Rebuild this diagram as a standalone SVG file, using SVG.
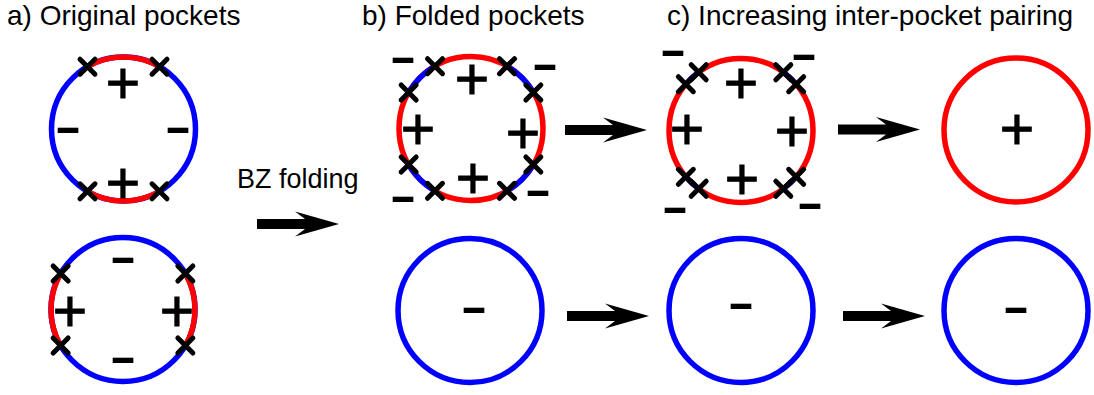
<svg xmlns="http://www.w3.org/2000/svg" xmlns:xlink="http://www.w3.org/1999/xlink" width="1094" height="395" viewBox="0 0 1094 395">
  <style>
    .title { font-family: "Liberation Sans", Arial, sans-serif; font-size: 28px; fill: #000; }
    .red { fill: none; stroke: #ff0000; stroke-width: 5.5; }
    .blue { fill: none; stroke: #0000ff; stroke-width: 5.5; }
    .node-mark { fill: none; stroke: #000; stroke-width: 5; stroke-linecap: round; }
    .p { font-family: "Liberation Sans", Arial, sans-serif; font-size: 59px; text-anchor: middle; fill: #000; stroke: #000; stroke-width: 0.9px; }
    .m { font-family: "Liberation Sans", Arial, sans-serif; font-weight: bold; font-size: 44px; text-anchor: middle; fill: #000; }
    .arrow { fill: #000; stroke: none; }
  </style>
  <defs>
    <!-- arcs on a radius-72 ring, centred on the top of the ring -->
    <path id="arc60" d="M-36,-62.354 A72,72 0 0 1 36,-62.354"/>
    <path id="arc30" d="M-18.635,-69.547 A72,72 0 0 1 18.635,-69.547"/>
    <path id="arc14" d="M-8.775,-71.464 A72,72 0 0 1 8.775,-71.464"/>
    <!-- gap node marker -->
    <path id="x" class="node-mark" d="M-7.5,-7.5 L7.5,7.5 M7.5,-7.5 L-7.5,7.5"/>
    <!-- block arrow, tip at origin -->
    <path id="arr" d="M-82,-5 H-34 L-44,-12.5 L0,0 L-44,12.5 L-34,5 H-82 Z"/>
  </defs>

  <!-- column titles -->
  <text class="title" x="7" y="25">a) Original pockets</text>
  <text class="title" x="362" y="25">b) Folded pockets</text>
  <text class="title" x="667" y="25">c) Increasing inter-pocket pairing</text>
  <text class="title" x="237" y="188" style="font-size:27px">BZ folding</text>

  <!-- a) original pocket, top -->
  <g id="pocket-a1" transform="translate(123.5,129)">
    <circle r="72" class="blue"/>
    <use href="#arc60" class="red"/>
    <use href="#arc60" class="red" transform="rotate(180)"/>
    <use href="#x" transform="rotate(-30) translate(0,-72) rotate(30)"/>
    <use href="#x" transform="rotate(30) translate(0,-72) rotate(-30)"/>
    <use href="#x" transform="rotate(150) translate(0,-72) rotate(-150)"/>
    <use href="#x" transform="rotate(210) translate(0,-72) rotate(-210)"/>
    <text class="p" x="-0.5" y="-26">+</text>
    <text class="p" x="-0.5" y="74">+</text>
    <text class="m" transform="translate(-55.5,0) scale(1.85,1)" y="12.5">-</text>
    <text class="m" transform="translate(54.5,0) scale(1.85,1)" y="12.5">-</text>
  </g>

  <!-- a) original pocket, bottom -->
  <g id="pocket-a2" transform="translate(123,309.5)">
    <circle r="72" class="blue"/>
    <use href="#arc60" class="red" transform="rotate(90)"/>
    <use href="#arc60" class="red" transform="rotate(270)"/>
    <use href="#x" transform="rotate(60) translate(0,-72) rotate(-60)"/>
    <use href="#x" transform="rotate(120) translate(0,-72) rotate(-120)"/>
    <use href="#x" transform="rotate(240) translate(0,-72) rotate(-240)"/>
    <use href="#x" transform="rotate(300) translate(0,-72) rotate(-300)"/>
    <text class="p" x="-53" y="21.5">+</text>
    <text class="p" x="54" y="21.5">+</text>
    <text class="m" transform="translate(0,-50.5) scale(1.85,1)" y="12.5">-</text>
    <text class="m" transform="translate(0,49.5) scale(1.85,1)" y="12.5">-</text>
  </g>

  <!-- b) folded pocket, top -->
  <g id="pocket-b1" transform="translate(471,128.5)">
    <circle r="72" class="red"/>
    <use href="#arc30" class="blue" transform="rotate(45)"/>
    <use href="#arc30" class="blue" transform="rotate(135)"/>
    <use href="#arc30" class="blue" transform="rotate(225)"/>
    <use href="#arc30" class="blue" transform="rotate(315)"/>
    <use href="#x" transform="rotate(30) translate(0,-72) rotate(-30)"/>
    <use href="#x" transform="rotate(60) translate(0,-72) rotate(-60)"/>
    <use href="#x" transform="rotate(120) translate(0,-72) rotate(-120)"/>
    <use href="#x" transform="rotate(150) translate(0,-72) rotate(-150)"/>
    <use href="#x" transform="rotate(210) translate(0,-72) rotate(-210)"/>
    <use href="#x" transform="rotate(240) translate(0,-72) rotate(-240)"/>
    <use href="#x" transform="rotate(300) translate(0,-72) rotate(-300)"/>
    <use href="#x" transform="rotate(330) translate(0,-72) rotate(-330)"/>
    <text class="p" x="1" y="-29.5">+</text>
    <text class="p" x="-53" y="20.5">+</text>
    <text class="p" x="52" y="24.5">+</text>
    <text class="p" x="2" y="69.5">+</text>
    <text class="m" transform="translate(-68,-69.5) scale(1.85,1)" y="12.5">-</text>
    <text class="m" transform="translate(74,-62.5) scale(1.85,1)" y="12.5">-</text>
    <text class="m" transform="translate(-68,69.5) scale(1.85,1)" y="12.5">-</text>
    <text class="m" transform="translate(67,63.5) scale(1.85,1)" y="12.5">-</text>
  </g>

  <!-- b) folded pocket, bottom -->
  <g id="pocket-b2" transform="translate(470,310.5)">
    <circle r="72" class="blue"/>
    <text class="m" transform="translate(4,-1.5) scale(1.85,1)" y="12.5">-</text>
  </g>

  <!-- c) weak inter-pocket pairing, top -->
  <g id="pocket-c1" transform="translate(741,130.5)">
    <circle r="72" class="red"/>
    <use href="#arc14" class="blue" transform="rotate(43)"/>
    <use href="#arc14" class="blue" transform="rotate(137)"/>
    <use href="#arc14" class="blue" transform="rotate(223)"/>
    <use href="#arc14" class="blue" transform="rotate(317)"/>
    <use href="#x" transform="rotate(36) translate(0,-72) rotate(-36)"/>
    <use href="#x" transform="rotate(50) translate(0,-72) rotate(-50)"/>
    <use href="#x" transform="rotate(130) translate(0,-72) rotate(-130)"/>
    <use href="#x" transform="rotate(144) translate(0,-72) rotate(-144)"/>
    <use href="#x" transform="rotate(216) translate(0,-72) rotate(-216)"/>
    <use href="#x" transform="rotate(230) translate(0,-72) rotate(-230)"/>
    <use href="#x" transform="rotate(310) translate(0,-72) rotate(-310)"/>
    <use href="#x" transform="rotate(324) translate(0,-72) rotate(-324)"/>
    <text class="p" x="0" y="-27.5">+</text>
    <text class="p" x="-54" y="18.5">+</text>
    <text class="p" x="51" y="20.5">+</text>
    <text class="p" x="1" y="68.5">+</text>
    <text class="m" transform="translate(-68,-78.5) scale(1.85,1)" y="12.5">-</text>
    <text class="m" transform="translate(63,-74.5) scale(1.85,1)" y="12.5">-</text>
    <text class="m" transform="translate(-66,78.5) scale(1.85,1)" y="12.5">-</text>
    <text class="m" transform="translate(69,74.5) scale(1.85,1)" y="12.5">-</text>
  </g>

  <!-- c) weak inter-pocket pairing, bottom -->
  <g id="pocket-c2" transform="translate(741,310.5)">
    <circle r="72" class="blue"/>
    <text class="m" transform="translate(0,-5) scale(1.85,1)" y="12.5">-</text>
  </g>

  <!-- strong inter-pocket pairing, top -->
  <g id="pocket-d1" transform="translate(1016,130)">
    <circle r="72" class="red"/>
    <text class="p" x="1" y="19">+</text>
  </g>

  <!-- strong inter-pocket pairing, bottom -->
  <g id="pocket-d2" transform="translate(1016,310.5)">
    <circle r="72" class="blue"/>
    <text class="m" transform="translate(0,-1) scale(1.85,1)" y="12.5">-</text>
  </g>

  <!-- connectors -->
  <g id="connectors" class="arrow">
    <use href="#arr" transform="translate(339,224)"/>
    <use href="#arr" transform="translate(647,130)"/>
    <use href="#arr" transform="translate(920,129.5)"/>
    <use href="#arr" transform="translate(649,316)"/>
    <use href="#arr" transform="translate(925,316)"/>
  </g>
</svg>
